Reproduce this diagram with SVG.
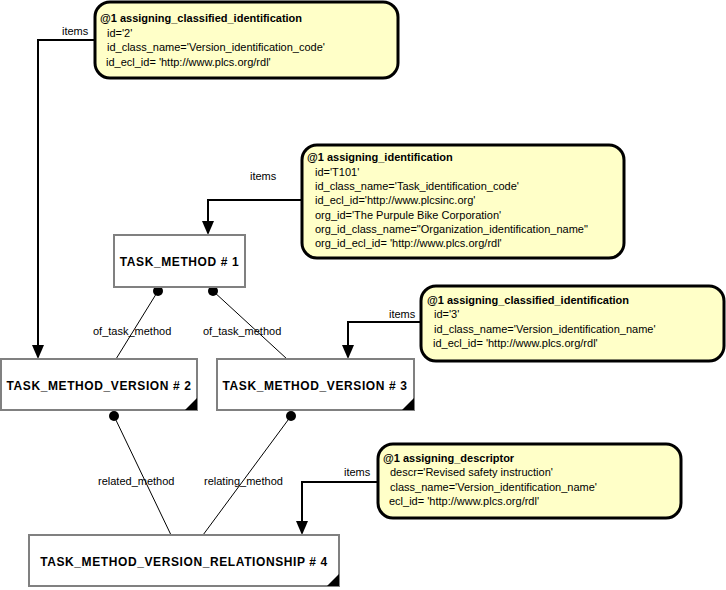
<svg xmlns="http://www.w3.org/2000/svg" width="726" height="590" viewBox="0 0 726 590">
<style>
.box{fill:#fff;stroke:#808080;stroke-width:2}
.note{fill:#ffffc8;stroke:#000;stroke-width:3}
.bl{font-family:"Liberation Sans",Arial,sans-serif;font-size:12px;font-weight:bold;letter-spacing:0.6px}
.t{font-family:"Liberation Sans",Arial,sans-serif;font-size:11px;fill:#000}
.h{font-weight:bold}
.c{fill:none;stroke:#000;stroke-width:2}
.r{fill:none;stroke:#000;stroke-width:1}
</style>
<defs>
<marker id="a" markerWidth="10" markerHeight="14" refX="5" refY="13" orient="auto-start-reverse" markerUnits="userSpaceOnUse" viewBox="0 0 10 14"><path d="M0,0 L10,0 L5,14 Z" fill="#000" transform="rotate(-90 5 7) rotate(90 5 7)"/></marker>
</defs>
<g id="connectors">
<path class="c" d="M95,40 H38 V347"/>
<path d="M32,345 L44,345 L38,359 Z"/>
<path class="c" d="M302,200 H208 V223"/>
<path d="M202,221 L214,221 L208,235 Z"/>
<path class="c" d="M421,322 H348 V347"/>
<path d="M342,345 L354,345 L348,359 Z"/>
<path class="c" d="M378,482 H302 V523"/>
<path d="M296,521 L308,521 L302,535 Z"/>
<path class="r" d="M158,291 L116,359"/>
<path class="r" d="M213,291 L287,359"/>
<path class="r" d="M114,416 L171,535"/>
<path class="r" d="M291,416 L203,535"/>
<circle cx="158" cy="291" r="5"/>
<circle cx="213" cy="291" r="5"/>
<circle cx="114" cy="416" r="5"/>
<circle cx="291" cy="416" r="5"/>
<text class="t" x="62" y="35">items</text>
<text class="t" x="250" y="180">items</text>
<text class="t" x="389" y="318">items</text>
<text class="t" x="344" y="476">items</text>
<text class="t" x="93" y="335">of_task_method</text>
<text class="t" x="203" y="335">of_task_method</text>
<text class="t" x="98" y="485">related_method</text>
<text class="t" x="204" y="485">relating_method</text>
</g>
<g id="n1"><rect class="box" x="114" y="235" width="131" height="52"/><text class="bl" x="179.5" y="266" text-anchor="middle">TASK_METHOD # 1</text></g>
<g id="n2"><rect class="box" x="1" y="359" width="196" height="51"/><path d="M197,398 V410 H185 Z"/><text class="bl" x="99" y="390" text-anchor="middle">TASK_METHOD_VERSION # 2</text></g>
<g id="n3"><rect class="box" x="217" y="359" width="197" height="51"/><path d="M414,398 V410 H402 Z"/><text class="bl" x="315" y="390" text-anchor="middle">TASK_METHOD_VERSION # 3</text></g>
<g id="n4"><rect class="box" x="29" y="535" width="310" height="51"/><path d="M339,574 V586 H327 Z"/><text class="bl" x="184" y="566" text-anchor="middle">TASK_METHOD_VERSION_RELATIONSHIP # 4</text></g>
<g id="note1"><rect class="note" x="95" y="2" width="303" height="76" rx="15"/>
<text class="t h" x="100" y="22">@1 assigning_classified_identification</text>
<text class="t" x="107" y="37">id='2'</text>
<text class="t" x="107" y="51">id_class_name='Version_identification_code'</text>
<text class="t" x="106" y="66">id_ecl_id= 'http://www.plcs.org/rdl'</text></g>
<g id="note2"><rect class="note" x="302" y="145" width="322" height="113" rx="15"/>
<text class="t h" x="307" y="161">@1 assigning_identification</text>
<text class="t" x="315" y="176">id='T101'</text>
<text class="t" x="315" y="190">id_class_name='Task_identification_code'</text>
<text class="t" x="315" y="204">id_ecl_id='http://www.plcsinc.org'</text>
<text class="t" x="315" y="219">org_id='The Purpule Bike Corporation'</text>
<text class="t" x="315" y="233">org_id_class_name="Organization_identification_name"</text>
<text class="t" x="315" y="247">org_id_ecl_id= 'http://www.plcs.org/rdl'</text></g>
<g id="note3"><rect class="note" x="421" y="286" width="303" height="75" rx="15"/>
<text class="t h" x="427" y="304">@1 assigning_classified_identification</text>
<text class="t" x="434" y="318">id='3'</text>
<text class="t" x="434" y="333">id_class_name='Version_identification_name'</text>
<text class="t" x="433" y="347">id_ecl_id= 'http://www.plcs.org/rdl'</text></g>
<g id="note4"><rect class="note" x="378" y="444" width="303" height="74" rx="15"/>
<text class="t h" x="383" y="462">@1 assigning_descriptor</text>
<text class="t" x="390" y="476">descr='Revised safety instruction'</text>
<text class="t" x="390" y="491">class_name='Version_identification_name'</text>
<text class="t" x="389" y="505">ecl_id= 'http://www.plcs.org/rdl'</text></g>
</svg>
